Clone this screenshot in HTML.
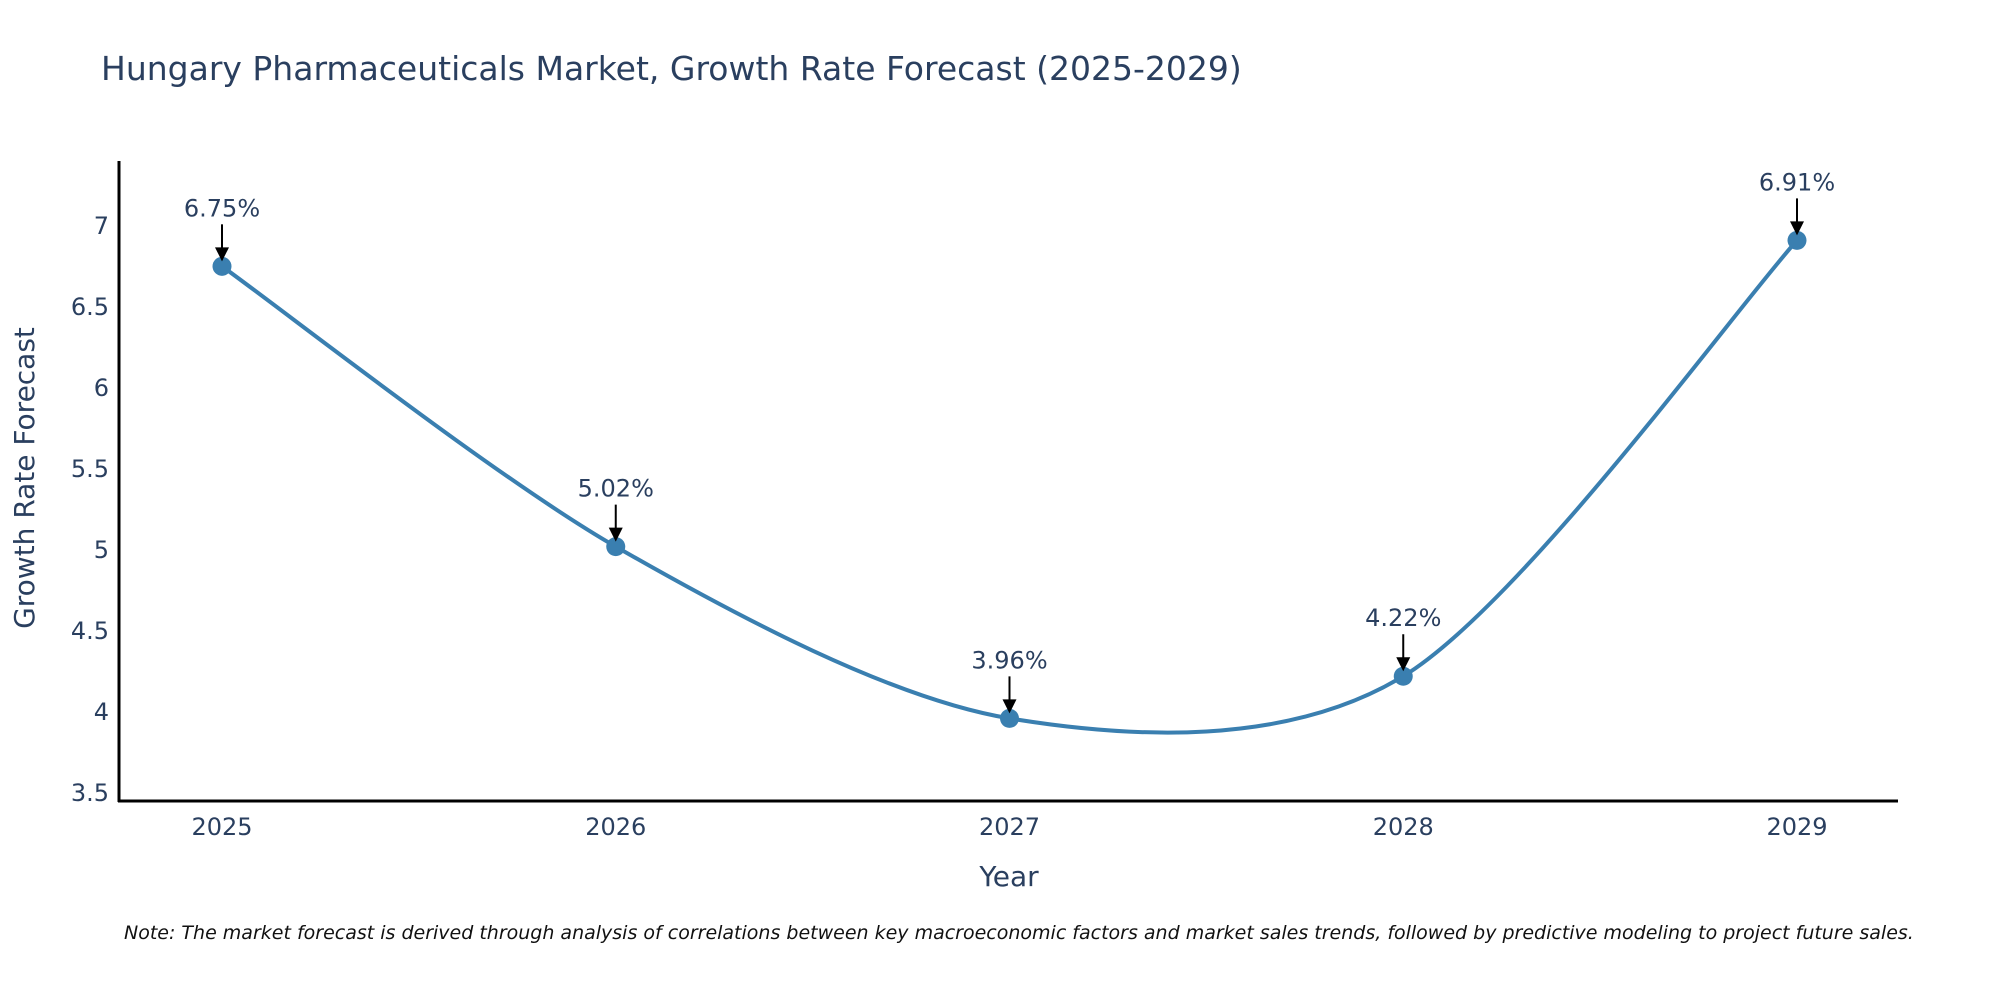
<!DOCTYPE html>
<html><head><meta charset="utf-8"><style>
body{margin:0;background:#fff;}
svg{display:block;font-family:"DejaVu Sans","Liberation Sans",sans-serif;}
</style></head><body>
<svg id="chart" width="2000" height="1000" viewBox="0 0 2000 1000">
<text x="101" y="80" font-size="33" fill="#2a3f5f">Hungary Pharmaceuticals Market, Growth Rate Forecast (2025-2029)</text>
<g id="plot"></g>
<text transform="translate(34,478) rotate(-90)" text-anchor="middle" font-size="28" fill="#2a3f5f">Growth Rate Forecast</text>
<text x="1009" y="886" text-anchor="middle" font-size="28" fill="#2a3f5f">Year</text>
<text x="124" y="939" font-size="19" font-style="italic" fill="#111">Note: The market forecast is derived through analysis of correlations between key macroeconomic factors and market sales trends, followed by predictive modeling to project future sales.</text>
</svg>
<script>
const years = [2025, 2026, 2027, 2028, 2029];
const growth = [6.75, 5.02, 3.96, 4.22, 6.91];
const yTicks = [3.5, 4, 4.5, 5, 5.5, 6, 6.5, 7];

const NS = "http://www.w3.org/2000/svg";
const plot = document.getElementById("plot");
const x0 = 119, x1 = 1898, yTop = 161, yBot = 801;
const yMin = 3.45, yMax = 7.4;
function xs(v){ return 222 + (v - 2025) * 393.75; }
function ys(v){ return yBot - (v - yMin) / (yMax - yMin) * (yBot - yTop); }
function mk(tag, attrs){ const e = document.createElementNS(NS, tag); for (const k in attrs) e.setAttribute(k, attrs[k]); plot.appendChild(e); return e; }

let e;
e = mk("line", {x1:x0, y1:yTop, x2:x0, y2:yBot+1, stroke:"#000", "stroke-width":3});


e = mk("line", {x1:x0-1, y1:yBot, x2:x1, y2:yBot, stroke:"#000", "stroke-width":3});



yTicks.forEach(t => {
  const el = mk("text", {x:x0-10, y:ys(t)+8, "text-anchor":"end", "font-size":24, fill:"#2a3f5f"});
  el.textContent = String(t);
  
  
});
years.forEach(yv => {
  const el = mk("text", {x:xs(yv), y:835, "text-anchor":"middle", "font-size":24, fill:"#2a3f5f"});
  el.textContent = String(yv);
  
  
});

const pts = years.map((yv,i) => [xs(yv), ys(growth[i])]);
let d = "M" + pts[0][0] + "," + pts[0][1];
const k = 0.15;
for (let i = 0; i < pts.length - 1; i++) {
  const p0 = pts[i-1] || pts[i], p1 = pts[i], p2 = pts[i+1], p3 = pts[i+2] || pts[i+1];
  const c1 = [p1[0] + (p2[0]-p0[0])*k, p1[1] + (p2[1]-p0[1])*k];
  const c2 = [p2[0] - (p3[0]-p1[0])*k, p2[1] - (p3[1]-p1[1])*k];
  d += " C" + c1 + " " + c2 + " " + p2;
}
e = mk("path", {d:d, fill:"none", stroke:"#3a7fb0", "stroke-width":4});



pts.forEach((p, i) => {
  const c = mk("circle", {cx:p[0], cy:p[1], r:9.5, fill:"#3a7fb0"});
  
  
  const a = mk("line", {x1:p[0], y1:p[1]-42, x2:p[0], y2:p[1]-18, stroke:"#000", "stroke-width":2});
  
  
  const h = mk("polygon", {points:(p[0]-7)+","+(p[1]-19)+" "+(p[0]+7)+","+(p[1]-19)+" "+p[0]+","+(p[1]-5), fill:"#000"});
  
  
  const t = mk("text", {x:p[0], y:p[1]-50, "text-anchor":"middle", "font-size":24, fill:"#2a3f5f"});
  t.textContent = growth[i].toFixed(2) + "%";
  
  
});
</script>
</body></html>
